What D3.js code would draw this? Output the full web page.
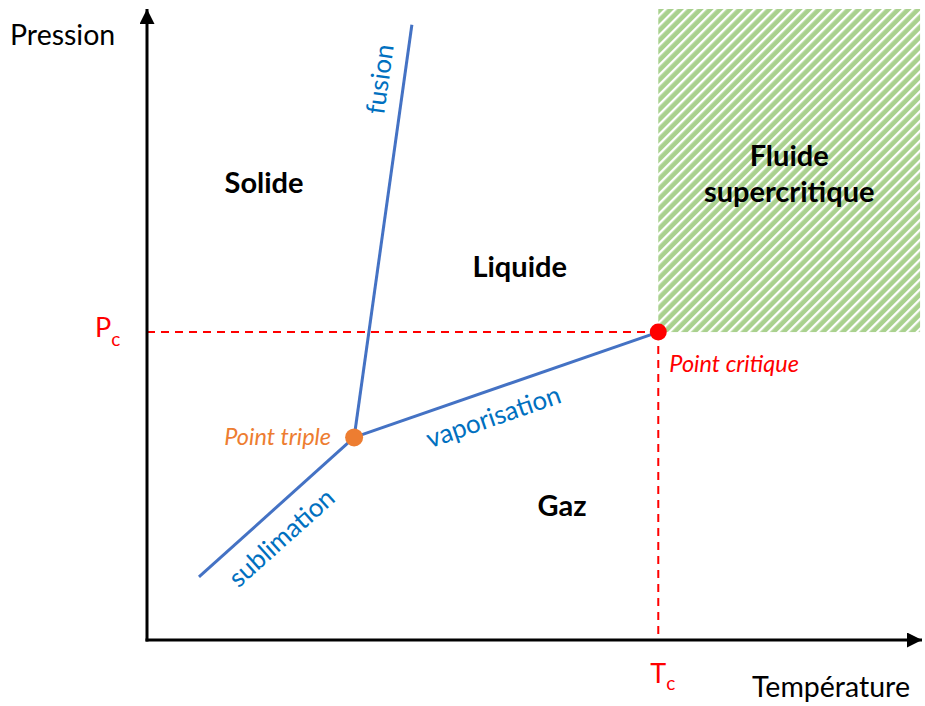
<!DOCTYPE html>
<html><head><meta charset="utf-8">
<script src="https://cdn.jsdelivr.net/npm/d3@7"></script>
<style>body{margin:0;background:#fff}svg{display:block}</style>
</head><body>
<svg id="c" width="925" height="706"></svg>
<script>
// ---- data (arbitrary units: T = temperature, P = pressure) ----
const triplePoint = {T: 26.9, P: 32.1};
const criticalPoint = {T: 66.4, P: 48.8};
const sublimationCurve = [{T: 6.75, P: 10.0}, {T: 26.9, P: 32.1}];
const fusionCurve = [{T: 26.9, P: 32.1}, {T: 34.4, P: 97.5}];
const vaporisationCurve = [{T: 26.9, P: 32.1}, {T: 66.4, P: 48.8}];
const supercriticalRegion = {T0: 66.4, T1: 100.4, P0: 48.8, P1: 100};
const regionLabels = [
  {text: "Solide", T: 15.2, P: 72.6},
  {text: "Liquide", T: 48.4, P: 59.3},
  {text: "Gaz", T: 53.9, P: 21.4},
  {text: "Fluide", T: 83.4, P: 76.9},
  {text: "supercritique", T: 83.4, P: 71.3}
];
const curveLabels = [
  {text: "sublimation", curve: "sublimation", t: 0.42, side: 1},
  {text: "fusion", curve: "fusion", t: 0.86, side: -1},
  {text: "vaporisation", curve: "vaporisation", t: 0.43, side: 1}
];
const tickLabels = {P: "P", Psub: "c", T: "T", Tsub: "c"};
const axisTitles = {y: "Pression", x: "Température"};
const pointLabels = {triple: "Point triple", critical: "Point critique"};

// ---- scales ----
const x = d3.scaleLinear().domain([0, 100]).range([147, 917]);
const y = d3.scaleLinear().domain([0, 100]).range([640, 9]);

const svg = d3.select("#c");
const font = "Lato, 'Liberation Sans', sans-serif";
const blue = "#4472C4", textBlue = "#0070C0", red = "#FF0000", orange = "#ED7D31";

// hatch pattern
const defs = svg.append("defs");
const pat = defs.append("pattern").attr("id", "hatch").attr("patternUnits", "userSpaceOnUse")
  .attr("width", 7).attr("height", 7).attr("patternTransform", "rotate(-45)");
pat.append("rect").attr("width", 7).attr("height", 7).attr("fill", "#A9D18E");
pat.append("rect").attr("x", 0).attr("y", 0).attr("width", 7).attr("height", 2.3).attr("fill", "#fff");

defs.append("marker").attr("id", "arr").attr("viewBox", "0 0 10 10").attr("refX", 10).attr("refY", 5)
  .attr("markerWidth", 5).attr("markerHeight", 5).attr("markerUnits", "strokeWidth").attr("orient", "auto")
  .append("path").attr("d", "M0,0L10,5L0,10Z").attr("fill", "#000");

// supercritical region
svg.append("rect")
  .attr("x", x(supercriticalRegion.T0)).attr("y", y(supercriticalRegion.P1))
  .attr("width", x(supercriticalRegion.T1) - x(supercriticalRegion.T0))
  .attr("height", y(supercriticalRegion.P0) - y(supercriticalRegion.P1))
  .attr("fill", "url(#hatch)");

// dashed guides
svg.append("line").attr("x1", x(0)).attr("x2", x(criticalPoint.T))
  .attr("y1", y(criticalPoint.P)).attr("y2", y(criticalPoint.P))
  .attr("stroke", red).attr("stroke-width", 2).attr("stroke-dasharray", "8,6");
svg.append("line").attr("x1", x(criticalPoint.T)).attr("x2", x(criticalPoint.T))
  .attr("y1", y(criticalPoint.P)).attr("y2", y(0))
  .attr("stroke", red).attr("stroke-width", 2).attr("stroke-dasharray", "8,6");

// axes
svg.append("line").attr("x1", x(0)).attr("y1", y(0) + 1.5).attr("x2", x(0)).attr("y2", y(100) + 0)
  .attr("stroke", "#000").attr("stroke-width", 3).attr("marker-end", "url(#arr)");
svg.append("line").attr("x1", x(0) - 1.5).attr("y1", y(0)).attr("x2", 922).attr("y2", y(0))
  .attr("stroke", "#000").attr("stroke-width", 3).attr("marker-end", "url(#arr)");

// curves
const line = d3.line().x(d => x(d.T)).y(d => y(d.P));
const curves = {sublimation: sublimationCurve, fusion: fusionCurve, vaporisation: vaporisationCurve};
Object.values(curves).forEach(c => svg.append("path").attr("d", line(c))
  .attr("fill", "none").attr("stroke", blue).attr("stroke-width", 3));

// curve labels
curveLabels.forEach(l => {
  const c = curves[l.curve];
  const x0 = x(c[0].T), y0 = y(c[0].P), x1 = x(c[1].T), y1 = y(c[1].P);
  const px = x0 + (x1 - x0) * l.t, py = y0 + (y1 - y0) * l.t;
  const ang = Math.atan2(y1 - y0, x1 - x0) * 180 / Math.PI;
  svg.append("text").attr("transform", `translate(${px},${py}) rotate(${ang})`)
    .attr("x", 0).attr("y", l.side * 25).attr("text-anchor", "middle").attr("dominant-baseline", "central")
    .attr("font-family", font).attr("font-size", 26).attr("fill", textBlue).text(l.text);
});

// points
svg.append("circle").attr("cx", x(triplePoint.T)).attr("cy", y(triplePoint.P)).attr("r", 9).attr("fill", orange);
svg.append("circle").attr("cx", x(criticalPoint.T)).attr("cy", y(criticalPoint.P)).attr("r", 8.5).attr("fill", red);

svg.append("text").attr("x", x(triplePoint.T) - 23).attr("y", y(triplePoint.P) + 8)
  .attr("text-anchor", "end").attr("font-family", font).attr("font-style", "italic")
  .attr("font-size", 23.5).attr("fill", orange).text(pointLabels.triple);
svg.append("text").attr("x", x(criticalPoint.T) + 11).attr("y", y(criticalPoint.P) + 40)
  .attr("font-family", font).attr("font-style", "italic")
  .attr("font-size", 23.5).attr("fill", red).text(pointLabels.critical);

// region labels
regionLabels.forEach(l => svg.append("text").attr("x", x(l.T)).attr("y", y(l.P))
  .attr("text-anchor", "middle").attr("dominant-baseline", "central")
  .attr("font-family", font).attr("font-weight", "bold").attr("font-size", 29).attr("fill", "#000").text(l.text));

// tick labels
const pc = svg.append("text").attr("x", 95).attr("y", y(criticalPoint.P) + 5)
  .attr("font-family", font).attr("font-size", 27).attr("fill", red);
pc.append("tspan").text(tickLabels.P);
pc.append("tspan").attr("dy", 9).attr("font-size", 19).text(tickLabels.Psub);
const tc = svg.append("text").attr("x", x(criticalPoint.T) - 8).attr("y", 683)
  .attr("font-family", font).attr("font-size", 27).attr("fill", red);
tc.append("tspan").text(tickLabels.T);
tc.append("tspan").attr("dy", 7).attr("font-size", 19).text(tickLabels.Tsub);

// axis titles
svg.append("text").attr("x", 10).attr("y", 45).attr("font-family", font).attr("font-size", 28.5)
  .attr("fill", "#000").text(axisTitles.y);
svg.append("text").attr("x", 752).attr("y", 697).attr("font-family", font).attr("font-size", 28.5)
  .attr("fill", "#000").text(axisTitles.x);
</script>
</body></html>
